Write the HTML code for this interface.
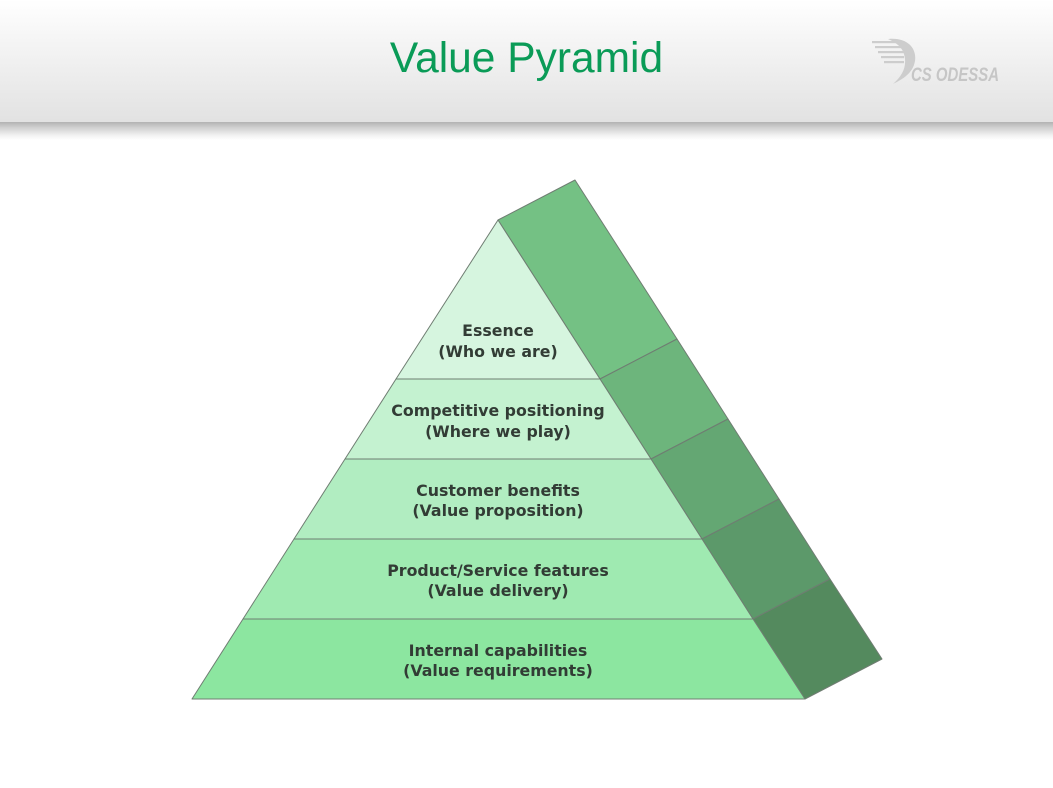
<!DOCTYPE html>
<html>
<head>
<meta charset="utf-8">
<style>
html,body{margin:0;padding:0;background:#fff;}
body{width:1053px;height:788px;overflow:hidden;position:relative;}
.hdr{position:absolute;left:0;top:0;width:1053px;height:122px;background:linear-gradient(#ffffff 0%,#f3f3f3 40%,#e2e2e2 100%);}
.shadow{position:absolute;left:0;top:122px;width:1053px;height:18px;background:linear-gradient(#b2b2b2 0%,#cfcfcf 30%,#f2f2f2 75%,#ffffff 100%);}
.title{position:absolute;left:0;top:34px;width:1053px;text-align:center;font-family:"Liberation Sans",Arial,sans-serif;font-size:42.5px;color:#0a9b57;line-height:50px;}
svg{position:absolute;left:0;top:0;}
</style>
</head>
<body>
<div class="hdr"></div>
<div class="shadow"></div>
<div class="title">Value Pyramid</div>
<svg width="1053" height="788" viewBox="0 0 1053 788">
  <!-- logo -->
  <g fill="#cdcdcd">
    <path d="M888 39 C907 37 917 48 915 61 C913 73 903 79 893 84 C901 77 906 69 905 59 C904 48 897 43 888 39 Z"/>
    <rect x="872" y="41" width="28" height="2.2"/>
    <rect x="875" y="46" width="28" height="2.2"/>
    <rect x="878" y="51" width="26" height="2.2"/>
    <rect x="881" y="56" width="23" height="2.2"/>
    <rect x="884" y="61" width="20" height="2.2"/>
  </g>
  <text x="911" y="81" font-family="Liberation Sans, Arial, sans-serif" font-size="19" font-weight="bold" font-style="italic" fill="#c6c6c6" textLength="88" lengthAdjust="spacingAndGlyphs">CS ODESSA</text>

  <g stroke="#6f7d72" stroke-width="1" stroke-linejoin="round">
    <!-- side faces -->
    <polygon points="498,220 575,180 677,339 600,379" fill="#74c184"/>
    <polygon points="600,379 677,339 728,419 651,459" fill="#6db57c"/>
    <polygon points="651,459 728,419 779,499 702,539" fill="#64a773"/>
    <polygon points="702,539 779,499 830,579 753,619" fill="#5c996a"/>
    <polygon points="753,619 830,579 882,659 805,699" fill="#548a5e"/>
    <!-- front levels -->
    <polygon points="498,220 600,379 396,379" fill="#d6f5df"/>
    <polygon points="396,379 600,379 651,459 345,459" fill="#c4f2d0"/>
    <polygon points="345,459 651,459 702,539 294,539" fill="#b1edc1"/>
    <polygon points="294,539 702,539 753,619 243,619" fill="#9feab1"/>
    <polygon points="243,619 753,619 805,699 192,699" fill="#8ce6a0"/>
  </g>

  <g font-family="DejaVu Sans, Verdana, sans-serif" font-weight="bold" font-size="15.8" fill="#323c35" text-anchor="middle">
    <text x="498" y="336">Essence</text>
    <text x="498" y="357">(Who we are)</text>
    <text x="498" y="416">Competitive positioning</text>
    <text x="498" y="437">(Where we play)</text>
    <text x="498" y="496">Customer benefits</text>
    <text x="498" y="516">(Value proposition)</text>
    <text x="498" y="576">Product/Service features</text>
    <text x="498" y="596">(Value delivery)</text>
    <text x="498" y="656">Internal capabilities</text>
    <text x="498" y="676">(Value requirements)</text>
  </g>
</svg>
</body>
</html>
